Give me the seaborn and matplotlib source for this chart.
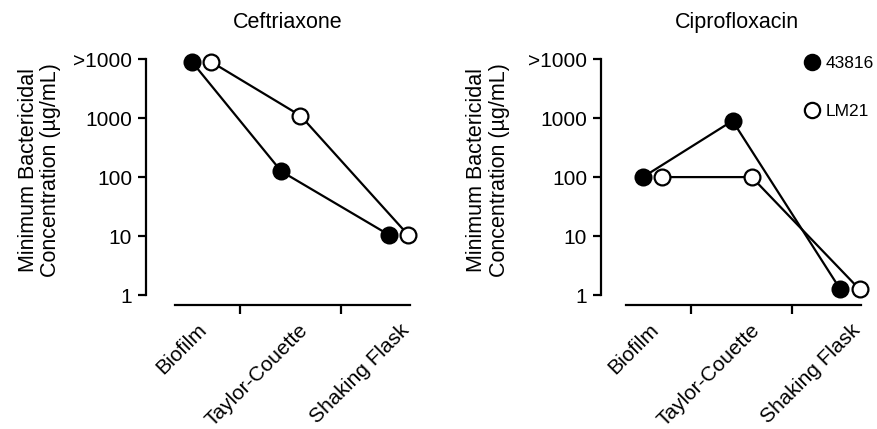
import numpy as np
import pandas as pd
import matplotlib
matplotlib.use("Agg")
import matplotlib.pyplot as plt
import seaborn as sns
from matplotlib.lines import Line2D

# values
categories = ["Biofilm", "Taylor-Couette", "Shaking Flask"]
strains = ["43816", "LM21"]
ceftriaxone_43816 = [9000, 125, 10.5]
ceftriaxone_lm21 = [9000, 1100, 10.5]
ciprofloxacin_43816 = [100, 900, 1.25]
ciprofloxacin_lm21 = [100, 100, 1.25]
yTicks = [1, 10, 100, 1000, 10000]
yTickLabels = ["1", "10", "100", "1000", ">1000"]

sns.set_style("ticks")
plt.rcParams["font.family"] = ["Liberation Sans", "DejaVu Sans"]
for key in ["text.color", "axes.labelcolor", "xtick.color", "ytick.color", "axes.edgecolor"]:
    plt.rcParams[key] = "black"

fig = plt.figure(figsize=(8.78, 4.29), dpi=100)

# where each category group sits on the x axis, and the offset of each strain inside a group
groupCenters = np.array([0.12, 1.005, 2.07])
dodge = 0.095

# panel boxes in figure fractions: left, bottom, width, height
panels = [
    ("Ceftriaxone", ceftriaxone_43816, ceftriaxone_lm21, [0.1663, 0.289, 0.322, 0.584], (-0.43, 2.37), -0.30),
    ("Ciprofloxacin", ciprofloxacin_43816, ciprofloxacin_lm21, [0.6845, 0.289, 0.31, 0.584], (-0.39, 2.30), -0.335),
]

lineWidth = 1.6
for title, filled, hollow, box, xlims, labelX in panels:
    ax = fig.add_axes(box)
    df = pd.DataFrame({
        "pos": np.concatenate([groupCenters - dodge, groupCenters + dodge]),
        "mbc": filled + hollow,
        "strain": [strains[0]] * 3 + [strains[1]] * 3,
    })
    for strain in strains:
        sub = df[df["strain"] == strain]
        sns.lineplot(data=sub, x="pos", y="mbc", color="black", linewidth=lineWidth,
                     ax=ax, legend=False, sort=False, zorder=2)
    for strain, face in zip(strains, ["black", "white"]):
        sub = df[df["strain"] == strain]
        sns.scatterplot(data=sub, x="pos", y="mbc", color=face, edgecolor="black", linewidth=1.6,
                        s=130, ax=ax, legend=False, zorder=3, clip_on=False)

    ax.set_yscale("log")
    ax.set_ylim(0.677, 12000)
    ax.set_xlim(*xlims)
    ax.set_yticks(yTicks)
    ax.set_yticklabels(yTickLabels)
    ax.minorticks_off()
    ax.set_xticks([i + 0.08 for i in range(3)])
    ax.set_xticklabels(categories, rotation=45, ha="right", va="top", rotation_mode="anchor")
    ax.set_xticks([0.5, 1.5], minor=True)
    ax.tick_params(axis="x", which="major", length=0, pad=11, labelsize=15)
    ax.tick_params(axis="x", which="minor", length=6.5, width=1.6, color="black")
    ax.tick_params(axis="y", length=6, width=1.6, color="black", labelsize=15, pad=4)

    for side in ["top", "right"]:
        ax.spines[side].set_visible(False)
    ax.spines["left"].set_bounds(1, 10000)
    ax.spines["bottom"].set_bounds(-0.14, 2.18)
    for side in ["left", "bottom"]:
        ax.spines[side].set_linewidth(1.6)
        ax.spines[side].set_color("black")

    ax.set_xlabel("")
    ax.set_ylabel("Minimum Bactericidal\nConcentration (\u00b5g/mL)", fontsize=15.5, linespacing=1.1)
    ax.yaxis.set_label_coords(labelX, 0.54)
    ax.set_title(title, fontsize=15.5, pad=19)

handles = [
    Line2D([], [], linestyle="none", marker="o", markersize=11, markerfacecolor="black",
           markeredgecolor="black", markeredgewidth=1.6),
    Line2D([], [], linestyle="none", marker="o", markersize=11, markerfacecolor="white",
           markeredgecolor="black", markeredgewidth=1.6),
]
fig.legend(handles, strains, loc="upper left", bbox_to_anchor=(0.916, 0.869), frameon=False,
           fontsize=12.5, handlelength=0.9, handletextpad=0.35, labelspacing=1.85,
           borderpad=0, borderaxespad=0)

fig.savefig("out.png", dpi=100)
